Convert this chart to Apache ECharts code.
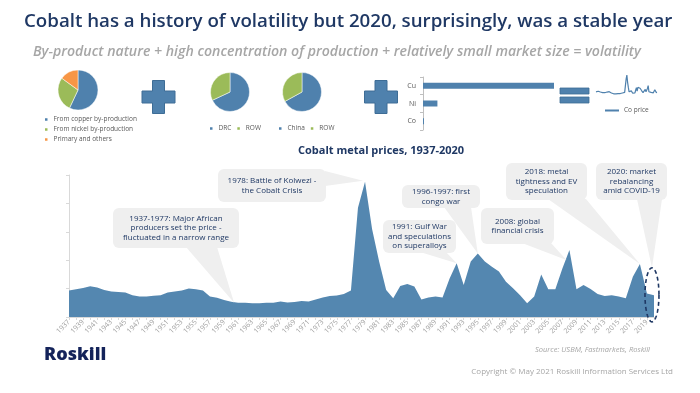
<!DOCTYPE html>
<html><head><meta charset="utf-8">
<script src="https://cdn.jsdelivr.net/npm/echarts@6/dist/echarts.min.js"></script>
<style>html,body{margin:0;padding:0;background:#fff}#c{width:700px;height:393px}</style>
</head><body><div id="c"></div>
<script>
// ---- data ----
const years = ['1937','1938','1939','1940','1941','1942','1943','1944','1945','1946','1947','1948','1949','1950','1951','1952','1953','1954','1955','1956','1957','1958','1959','1960','1961','1962','1963','1964','1965','1966','1967','1968','1969','1970','1971','1972','1973','1974','1975','1976','1977','1978','1979','1980','1981','1982','1983','1984','1985','1986','1987','1988','1989','1990','1991','1992','1993','1994','1995','1996','1997','1998','1999','2000','2001','2002','2003','2004','2005','2006','2007','2008','2009','2010','2011','2012','2013','2014','2015','2016','2017','2018','2019','2020'];
const prices = [9.3,9.75,10.2,10.8,10.4,9.5,9.0,8.8,8.6,7.7,7.2,7.2,7.5,7.7,8.6,9.0,9.3,10.0,9.75,9.3,7.2,6.8,6.0,5.4,5.0,5.0,4.8,4.8,5.0,5.0,5.5,5.1,5.3,5.6,5.5,6.2,6.9,7.4,7.6,8.1,9.3,38.5,47.6,31.0,19.5,9.5,6.6,10.9,11.6,10.7,6.2,6.9,7.2,6.9,13.6,18.9,11.3,19.5,22.4,19.5,17.7,16.0,12.4,10.1,7.7,4.8,7.2,15.0,9.75,9.75,17.1,23.6,9.75,11.3,9.9,8.1,7.4,7.7,7.2,6.6,14.2,18.7,8.3,7.7];
const sourceNames = ['From copper by-production','From nickel by-production','Primary and others'];
const sourceShares = [57, 28, 15];
const mineNames = ['DRC','ROW'];
const mineShares = [68, 32];
const refineNames = ['China','ROW'];
const refineShares = [67, 33];
const metalNames = ['Cu','Ni','Co'];
const metalOutput = [20, 2.2, 0.15];
const noteTexts = [
  '1937-1977: Major African\nproducers set the price -\nfluctuated in a narrow range',
  '1978: Battle of Kolwezi -\nthe Cobalt Crisis',
  '1991: Gulf War\nand speculations\non superalloys',
  '1996-1997: first\ncongo war',
  '2008: global\nfinancial crisis',
  '2018: metal\ntightness and EV\nspeculation',
  '2020: market\nrebalancing\namid COVID-19'
];
const noteYears = ['1960','1979','1992','1995','2008','2018','2020'];

// ---- styles ----
const BLUE = '#4f81ad', AREA = '#5487b0', GREEN = '#9bbb59', ORANGE = '#f79646';
const NAVY = '#1f3864', FONT = '"Open Sans", sans-serif';
const pieColors3 = [BLUE, GREEN, ORANGE], pieColors2 = [BLUE, GREEN];

const chart = echarts.init(document.getElementById('c'), null, {renderer:'canvas'});

function pieData(names, vals, cols){ return names.map((n,i)=>({name:n, value:vals[i], itemStyle:{color:cols[i]}})); }

const legendText = {fontSize:6.5, color:'#595959', fontFamily:FONT};
const option = {
  animation:false,
  textStyle:{fontFamily:FONT},
  title:[
    {text:'Cobalt has a history of volatility but 2020, surprisingly, was a stable year', left:24, top:12, padding:0,
     textStyle:{fontSize:18.7, fontWeight:600, color:NAVY, fontFamily:FONT}},
    {text:'By-product nature + high concentration of production + relatively small market size = volatility', left:33, top:44.5, padding:0,
     textStyle:{fontSize:14.1, fontStyle:'italic', fontWeight:600, color:'#a6a6a6', fontFamily:FONT}},
    {text:'Cobalt metal prices, 1937-2020', left:298, top:145, padding:0,
     textStyle:{fontSize:11, fontWeight:'bold', color:NAVY, fontFamily:FONT}},
    {text:'Roskill', left:44, top:346, padding:0,
     textStyle:{fontSize:18, fontWeight:800, color:'#14235a', fontFamily:FONT}},
    {text:'Source: USBM, Fastmarkets, Roskill', right:50, top:346, padding:0,
     textStyle:{fontSize:7.5, fontStyle:'italic', fontWeight:'normal', color:'#a6a6a6', fontFamily:FONT}},
    {text:'Copyright \u00a9 May 2021 Roskill Information Services Ltd', right:27, top:368, padding:0,
     textStyle:{fontSize:8, fontWeight:'normal', color:'#a6a6a6', fontFamily:FONT}}
  ],
  legend:[
    {data:sourceNames, orient:'vertical', left:43, top:116, icon:'rect', itemWidth:4.5, itemHeight:4.5, itemGap:3, padding:0, textStyle:legendText, selectedMode:false},
    {data:mineNames, left:208, top:125, icon:'rect', itemWidth:4.5, itemHeight:4.5, itemGap:4, padding:0, textStyle:legendText, selectedMode:false},
    {data:refineNames, left:277, top:125, icon:'rect', itemWidth:4.5, itemHeight:4.5, itemGap:4, padding:0, textStyle:legendText, selectedMode:false},
    {data:['Co price'], left:605, top:107, icon:'rect', itemWidth:14, itemHeight:2, padding:0, textStyle:legendText, selectedMode:false}
  ],
  grid:[
    {left:69, top:175, width:585, height:142},
    {left:423, top:77, width:131, height:53},
    {left:596, top:74, width:61, height:22}
  ],
  xAxis:[
    {gridIndex:0, type:'category', data:years, boundaryGap:false,
     axisLine:{lineStyle:{color:'#d9d9d9'}},
     axisTick:{show:true, interval:0, length:3, lineStyle:{color:'#d9d9d9'}},
     axisLabel:{interval:1, rotate:45, fontSize:7, color:'#a0a0a0', margin:4, fontFamily:FONT}},
    {gridIndex:1, type:'value', min:0, max:20, show:false},
    {gridIndex:2, type:'category', data:years, boundaryGap:false, show:false}
  ],
  yAxis:[
    {gridIndex:0, type:'value', min:0, max:50, interval:10,
     axisLine:{show:true, lineStyle:{color:'#d9d9d9'}},
     axisTick:{show:true, length:3, lineStyle:{color:'#d9d9d9'}},
     axisLabel:{show:false}, splitLine:{show:false}},
    {gridIndex:1, type:'category', data:metalNames, inverse:true,
     axisLine:{show:true, lineStyle:{color:'#bfbfbf'}},
     axisTick:{show:true, length:3, lineStyle:{color:'#bfbfbf'}},
     axisLabel:{fontSize:7, color:'#595959', margin:7, fontFamily:FONT}},
    {gridIndex:2, type:'value', min:0, max:50, show:false}
  ],
  series:[
    {type:'line', name:'Cobalt price', xAxisIndex:0, yAxisIndex:0, data:prices, symbol:'none',
     lineStyle:{width:0}, areaStyle:{color:AREA, opacity:1}, itemStyle:{color:AREA}, z:2},
    {type:'line', name:'Co price', xAxisIndex:2, yAxisIndex:2, data:prices, symbol:'none',
     lineStyle:{width:1.2, color:BLUE}, itemStyle:{color:BLUE}},
    {type:'bar', name:'Output', xAxisIndex:1, yAxisIndex:1, data:metalOutput, barWidth:6, itemStyle:{color:BLUE}},
    {type:'pie', name:'Source', center:[78,90], radius:20, startAngle:90, label:{show:false}, labelLine:{show:false},
     itemStyle:{borderColor:'#fff', borderWidth:0.5}, data:pieData(sourceNames, sourceShares, pieColors3)},
    {type:'pie', name:'Mine', center:[230,92], radius:19.5, startAngle:90, label:{show:false}, labelLine:{show:false},
     itemStyle:{borderColor:'#fff', borderWidth:0.5}, data:pieData(mineNames, mineShares, pieColors2)},
    {type:'pie', name:'Refined', center:[302,92], radius:19.5, startAngle:90, label:{show:false}, labelLine:{show:false},
     itemStyle:{borderColor:'#fff', borderWidth:0.5}, data:pieData(refineNames, refineShares, pieColors2)}
  ]
};
chart.setOption(option);

// ---- decorations ----
function px(year, val){ return chart.convertToPixel({xAxisIndex:0, yAxisIndex:0}, [year, val]); }
function valOf(year){ return prices[years.indexOf(year)]; }

function plus(cx, cy){
  const a = 16.5, t = 6;
  return {type:'polygon', z:10, shape:{points:[
    [cx-t,cy-a],[cx+t,cy-a],[cx+t,cy-t],[cx+a,cy-t],[cx+a,cy+t],[cx+t,cy+t],[cx+t,cy+a],
    [cx-t,cy+a],[cx-t,cy+t],[cx-a,cy+t],[cx-a,cy-t],[cx-t,cy-t]]},
    style:{fill:BLUE, stroke:'#3e6d96', lineWidth:1}};
}

// box [x,y,w,h], tail base points, tip offset
const noteBoxes = [
  {box:[113,208,126,40], base:[[186,247],[217,247]], off:[3,1]},
  {box:[218,169,108,33], base:[[325,171],[325,186]], off:[-2,-1]},
  {box:[383,220,73,33], base:[[420,252],[446,252]], off:[0,0]},
  {box:[402,185,78,23], base:[[444,207],[471,207]], off:[0,0]},
  {box:[481,208,73,36], base:[[522,243],[551,243]], off:[-3,10]},
  {box:[506,163,81,37], base:[[548,199],[586,199]], off:[0,0]},
  {box:[596,163,71,37], base:[[637,199],[662,199]], off:null}
];

const p19 = px('2019', 0), p20 = px('2020', 0);
const ecx = (p19[0] + p20[0]) / 2 + 1.5;
const ecy = px('2020', 7.8)[1];
const erx = 7, ery = 27;
const ellPts = [];
for (let k = 0; k <= 64; k++){ const a = k/64*Math.PI*2; ellPts.push([ecx + erx*Math.cos(a), ecy + ery*Math.sin(a)]); }

const g = [];
g.push(plus(158.5, 97));
g.push(plus(381, 97));
g.push({type:'rect', z:10, shape:{x:560, y:88, width:29, height:6}, style:{fill:BLUE, stroke:'#3e6d96', lineWidth:0.8}});
g.push({type:'rect', z:10, shape:{x:560, y:97, width:29, height:6}, style:{fill:BLUE, stroke:'#3e6d96', lineWidth:0.8}});

noteBoxes.forEach((nb, i) => {
  let tip;
  if (nb.off){ const p = px(noteYears[i], valOf(noteYears[i])); tip = [p[0]+nb.off[0], p[1]+nb.off[1]]; }
  else tip = [ecx, ecy - ery];
  const [x,y,w,h] = nb.box;
  g.push({type:'polygon', z:20, shape:{points:[nb.base[0], nb.base[1], tip]}, style:{fill:'#efefef'}});
  g.push({type:'rect', z:20, shape:{x:x, y:y, width:w, height:h, r:6}, style:{fill:'#efefef'}});
  g.push({type:'text', z:21, x:x + w/2, y:y + h/2, style:{text:noteTexts[i], fill:NAVY, fontSize:8, fontFamily:FONT,
    lineHeight:9.5, align:'center', verticalAlign:'middle', textAlign:'center', textVerticalAlign:'middle'}});
});
g.push({type:'polyline', z:30, shape:{points:ellPts}, style:{fill:null, stroke:NAVY, lineWidth:1.6, lineDash:[4,3]}});

chart.setOption({graphic:g});
</script>
</body></html>
